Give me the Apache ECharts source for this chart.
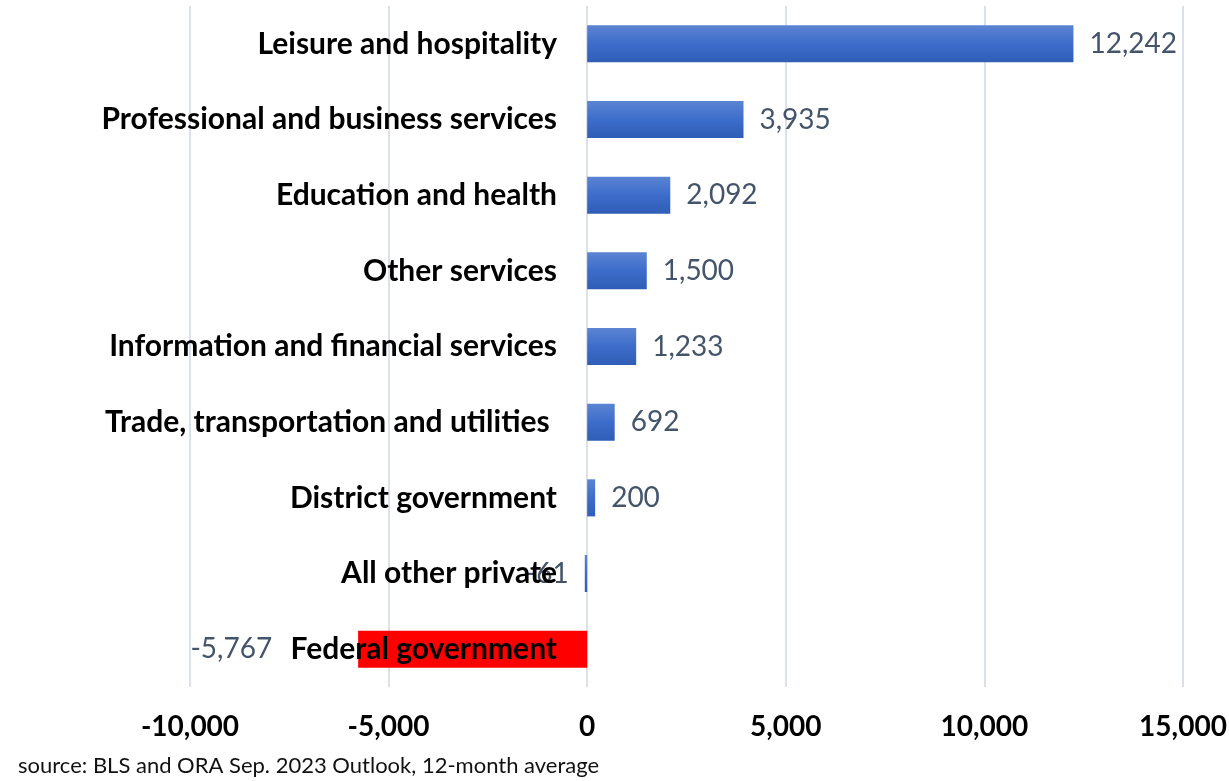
<!DOCTYPE html>
<html><head><meta charset="utf-8">
<script src="https://cdn.jsdelivr.net/npm/echarts@6/dist/echarts.min.js"></script>
<style>html,body{margin:0;padding:0;background:#fff}#c{width:1229px;height:781px}</style>
</head><body><div id="c"></div>
<script>
const categories = ["Leisure and hospitality","Professional and business services","Education and health","Other services","Information and financial services","Trade, transportation and utilities ","District government","All other private","Federal government"];
const values = [12242, 3935, 2092, 1500, 1233, 692, 200, -61, -5767];
const xTicks = [-10000, -5000, 0, 5000, 10000, 15000];
const sourceNote = "source: BLS and ORA Sep. 2023 Outlook, 12-month average";

const FONT = "Lato, 'Open Sans', sans-serif";
const blueGrad = new echarts.graphic.LinearGradient(0,0,0,1,[{offset:0,color:'#5B84D2'},{offset:0.5,color:'#3D6DCB'},{offset:1,color:'#2F5DB6'}]);
const chart = echarts.init(document.getElementById('c'));
chart.setOption({
  animation:false,
  backgroundColor:'#fff',
  grid:{left:190,right:46,top:6,bottom:94,containLabel:false,outerBoundsMode:'none'},
  xAxis:{type:'value',min:xTicks[0],max:xTicks[xTicks.length-1],interval:5000,
    axisLine:{show:false},axisTick:{show:false},
    splitLine:{lineStyle:{color:'#DCE0E8',width:2}},
    axisLabel:{margin:26,fontFamily:FONT,fontWeight:'bold',fontSize:28,color:'#000',
      formatter:v=>v.toLocaleString('en-US')}},
  yAxis:{type:'category',data:categories,inverse:true,z:10,offset:-397,
    axisLine:{show:false,onZero:false},axisTick:{show:false},
    axisLabel:{margin:30,fontFamily:FONT,fontWeight:'bold',fontSize:30,color:'#000'}},
  series:[{type:'bar',barWidth:'49%',z:2,
    data:values.map(v=>({value:v,
      itemStyle:{color: v < -1000 ? '#FF0000' : blueGrad},
      label:{position: v<0 ? 'left':'right', distance: v < -1000 ? 86 : 16}})),
    label:{show:true,fontFamily:FONT,fontSize:28,color:'#44546A',
      formatter:p=>p.value.toLocaleString('en-US')}}],
  graphic:[{type:'text',left:18,top:755,style:{text:sourceNote,fontFamily:FONT,fontSize:22,fill:'#111'}}]
});
</script></body></html>
